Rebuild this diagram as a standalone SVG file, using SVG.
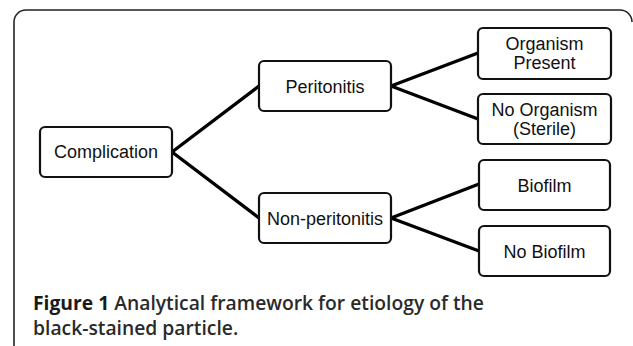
<svg xmlns="http://www.w3.org/2000/svg" width="633" height="346" viewBox="0 0 633 346">
<style>
.box{fill:#fff;stroke:#111;stroke-width:2.2}
.lbl{font-family:"Liberation Sans",Arial,sans-serif;font-size:18px;fill:#111;text-anchor:middle}
.conn{stroke:#000;stroke-width:3.4;fill:none;stroke-linecap:round}
.cap{font-family:"Open Sans","Noto Sans",sans-serif;font-size:19.3px;fill:#2a2a2a;font-weight:600}
</style>
<rect width="633" height="346" fill="#fff"/>
<path d="M14,346 L14,22 A12,12 0 0 1 26,10 L620,10 A12,12 0 0 1 632,22" fill="none" stroke="#222" stroke-width="1.6"/>
<g id="connectors">
<line class="conn" x1="172" y1="152" x2="259" y2="86"/>
<line class="conn" x1="172" y1="152" x2="259" y2="218"/>
<line class="conn" x1="391" y1="86" x2="478" y2="53"/>
<line class="conn" x1="391" y1="86" x2="478" y2="119"/>
<line class="conn" x1="391" y1="218" x2="479" y2="184"/>
<line class="conn" x1="391" y1="218" x2="479" y2="251"/>
</g>
<g id="complication"><rect class="box" x="40" y="127" width="132" height="50" rx="5"/><text class="lbl" x="106" y="157.5">Complication</text></g>
<g id="peritonitis"><rect class="box" x="259" y="61" width="132" height="50" rx="5"/><text class="lbl" x="325" y="92.5">Peritonitis</text></g>
<g id="non-peritonitis"><rect class="box" x="259" y="193" width="132" height="50" rx="5"/><text class="lbl" x="325" y="224.5">Non-peritonitis</text></g>
<g id="organism-present"><rect class="box" x="478" y="28" width="133" height="51" rx="5"/><text class="lbl" x="544.5" y="50">Organism</text><text class="lbl" x="544.5" y="69">Present</text></g>
<g id="no-organism"><rect class="box" x="478" y="94" width="133" height="50" rx="5"/><text class="lbl" x="544.5" y="116">No Organism</text><text class="lbl" x="544.5" y="135">(Sterile)</text></g>
<g id="biofilm"><rect class="box" x="479" y="160" width="131" height="50" rx="5"/><text class="lbl" x="544.5" y="191.5">Biofilm</text></g>
<g id="no-biofilm"><rect class="box" x="479" y="226" width="131" height="50" rx="5"/><text class="lbl" x="544.5" y="257.5">No Biofilm</text></g>
<text class="cap" x="33" y="310"><tspan font-weight="700" fill="#1a1a1a">Figure 1</tspan> Analytical framework for etiology of the</text>
<text class="cap" x="33" y="335">black-stained particle.</text>
</svg>
